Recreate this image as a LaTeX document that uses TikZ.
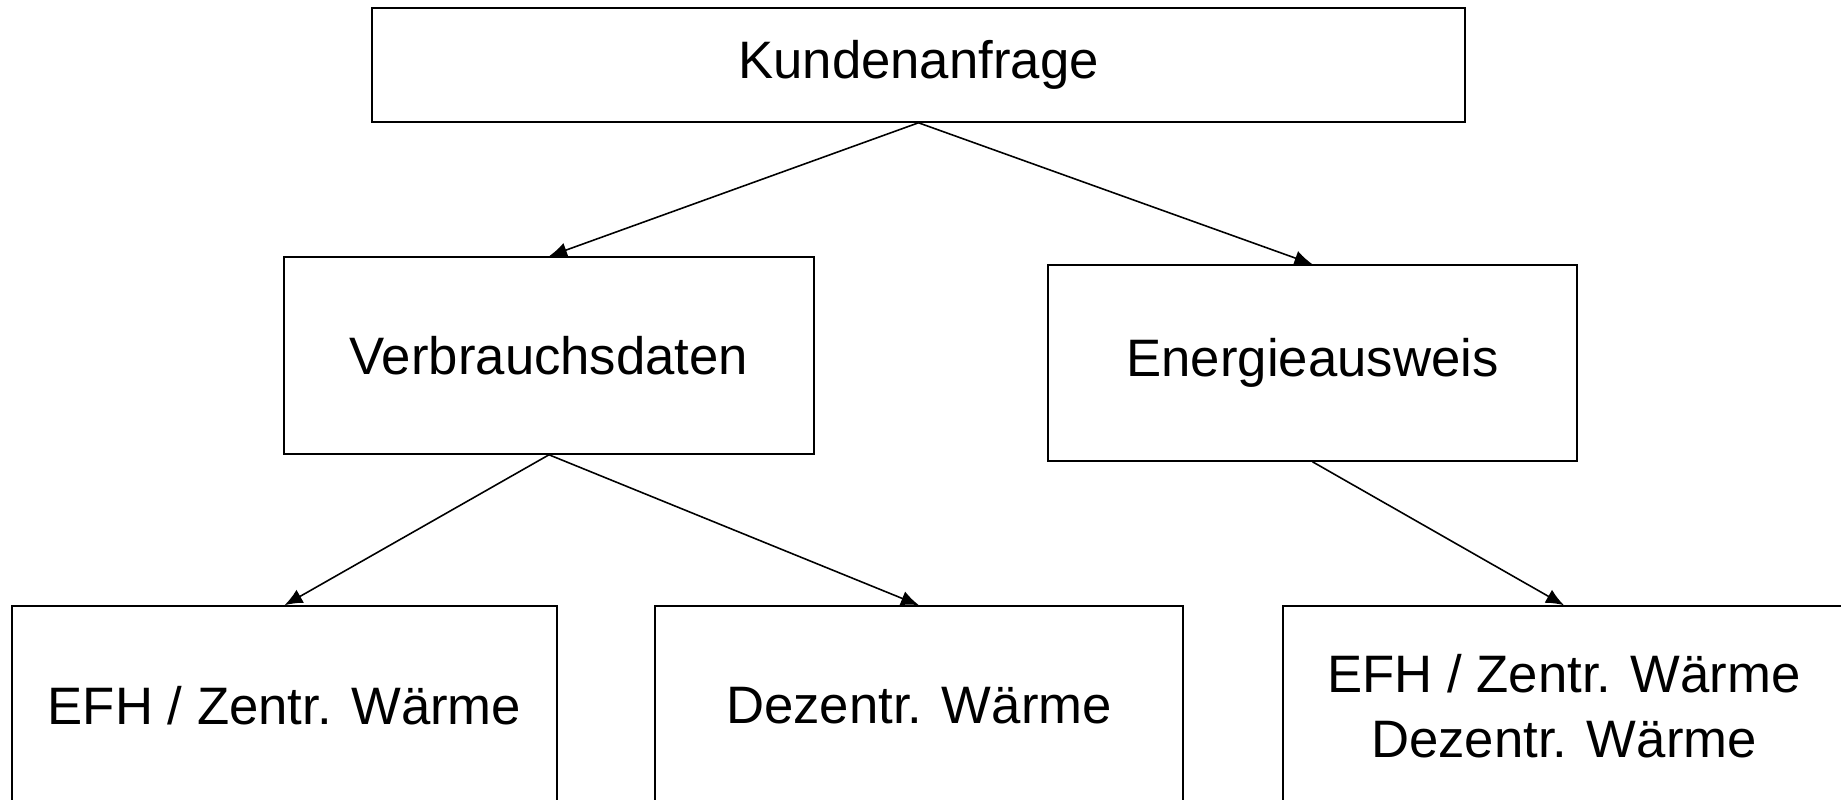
\documentclass[tikz,border=0pt]{standalone}
\usepackage{fontspec}
\setmainfont{Liberation Sans}
\usetikzlibrary{arrows.meta}
\tikzstyle{box} = [draw, rectangle, inner sep=0pt, align=center, font=\fontsize{30}{36.8}\selectfont]
\tikzstyle{line} = [draw, -{Latex[length=3.6mm,width=3mm]}]

\begin{document}
\begin{tikzpicture}[x=0.02cm, y=-0.02cm, line width=0.9pt]
            \useasboundingbox (0,0) rectangle (1841,799);
                \node [box, minimum width=21.86cm, minimum height=2.28cm] (anfrage) at (918.5,65) {Kundenanfrage};
                \node [box, minimum width=10.6cm, minimum height=3.94cm] (verbrauch) at (549,355.5) {Verbrauchsdaten};
                \node [box, minimum width=10.58cm, minimum height=3.92cm] (ausweis) at (1312.5,363) {Energieausweis};
                \node [box, minimum width=10.9cm, minimum height=4cm] (efh) at (284.5,706) {EFH / Zentr. Wärme};
                \node [box, minimum width=10.56cm, minimum height=4cm] (dezentr) at (919,706) {Dezentr. Wärme};
                \node [box, minimum width=11.24cm, minimum height=4cm] (beide) at (1564,706) {EFH / Zentr. Wärme\\Dezentr. Wärme};
                \path [line] (anfrage.south) -- (verbrauch.north);
                \path [line] (anfrage.south) -- (ausweis.north);
                \path [line] (verbrauch.south) -- (efh.north);
                \path [line] (verbrauch.south) -- (dezentr.north);
                \path [line] (ausweis.south) -- (beide.north);
            \end{tikzpicture}
\end{document}
